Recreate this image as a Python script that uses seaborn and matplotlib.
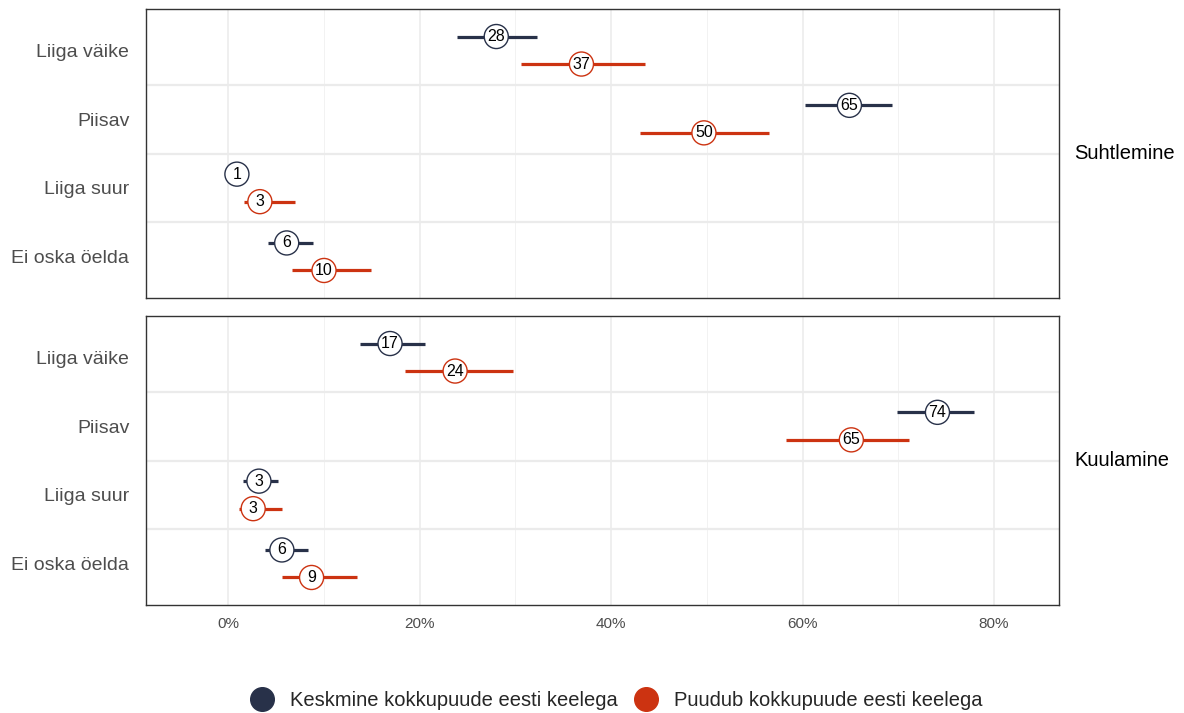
import numpy as np
import pandas as pd
import matplotlib
matplotlib.use('Agg')
import matplotlib.pyplot as plt
from matplotlib.lines import Line2D
import seaborn as sns

# --- andmed ---
categories = ['Liiga väike', 'Piisav', 'Liiga suur', 'Ei oska öelda']
panels = ['Suhtlemine', 'Kuulamine']
groups = ['Keskmine kokkupuude eesti keelega', 'Puudub kokkupuude eesti keelega']

# Suhtlemine
suht_kesk = [28.0, 64.9, 0.9, 6.1]
suht_kesk_lo = [23.9, 60.3, 0.4, 4.2]
suht_kesk_hi = [32.3, 69.3, 1.6, 8.9]
suht_puud = [36.9, 49.7, 3.3, 10.0]
suht_puud_lo = [30.6, 43.0, 1.6, 6.7]
suht_puud_hi = [43.5, 56.5, 7.0, 14.9]

# Kuulamine
kuul_kesk = [16.9, 74.1, 3.2, 5.6]
kuul_kesk_lo = [13.8, 69.9, 1.5, 3.8]
kuul_kesk_hi = [20.6, 77.9, 5.2, 8.3]
kuul_puud = [23.7, 65.1, 2.6, 8.7]
kuul_puud_lo = [18.5, 58.3, 1.1, 5.6]
kuul_puud_hi = [29.8, 71.1, 5.6, 13.4]

x_ticks = [0, 20, 40, 60, 80]
x_tick_labels = ['0%', '20%', '40%', '60%', '80%']

colors = {groups[0]: '#283149', groups[1]: '#cc3311'}
offsets = {groups[0]: -0.2, groups[1]: 0.2}

rows = []
for panel, series in zip(panels, [
        [(suht_kesk, suht_kesk_lo, suht_kesk_hi), (suht_puud, suht_puud_lo, suht_puud_hi)],
        [(kuul_kesk, kuul_kesk_lo, kuul_kesk_hi), (kuul_puud, kuul_puud_lo, kuul_puud_hi)]]):
    for grp, (vals, lo, hi) in zip(groups, series):
        for i, cat in enumerate(categories):
            rows.append({'panel': panel, 'group': grp, 'category': cat,
                         'value': vals[i], 'lo': lo[i], 'hi': hi[i],
                         'y': i + offsets[grp]})
df = pd.DataFrame(rows)

sns.set_theme(style='white')
plt.rcParams['font.family'] = ['Liberation Sans', 'DejaVu Sans']

fig = plt.figure(figsize=(11.84, 7.13), dpi=100)
W, H = 1184, 713
ax_top = fig.add_axes([146 / W, (H - 298) / H, (1059 - 146) / W, 289 / H])
ax_bot = fig.add_axes([146 / W, (H - 605) / H, (1059 - 146) / W, 289 / H])

for ax, panel in zip([ax_top, ax_bot], panels):
    sub = df[df['panel'] == panel]
    # veapiirid
    for grp in groups:
        g = sub[sub['group'] == grp]
        ax.hlines(g['y'], g['lo'], g['hi'], color=colors[grp], lw=2.3, zorder=3)
    # ringid
    sns.scatterplot(data=sub, x='value', y='y', hue='group', palette=colors,
                    hue_order=groups, s=300, legend=False,
                    ax=ax, zorder=4, linewidth=1.0)
    coll = ax.collections[-1]
    coll.set_facecolor('white')
    coll.set_edgecolor([colors[g] for g in sub['group']])
    for _, r in sub.iterrows():
        ax.text(r['value'], r['y'], f"{round(r['value']):.0f}", ha='center', va='center',
                fontsize=11.5, color='black', zorder=5)

    ax.set_xlim(-8.6, 86.8)
    ax.set_ylim(3.6, -0.6)
    ax.set_yticks(range(len(categories)))
    ax.set_yticklabels(categories)
    ax.set_yticks([0.5, 1.5, 2.5], minor=True)
    ax.set_xticks(x_ticks)
    ax.set_xticks([10, 30, 50, 70], minor=True)
    ax.grid(which='major', axis='x', color='#ebebeb', lw=1.1, zorder=0)
    ax.grid(which='minor', axis='x', color='#f0f0f0', lw=0.6, zorder=0)
    ax.grid(which='minor', axis='y', color='#ebebeb', lw=1.6, zorder=0)
    ax.set_axisbelow(True)
    ax.tick_params(axis='y', which='both', length=0, labelsize=14, labelcolor='#4d4d4d', pad=12)
    ax.tick_params(axis='x', which='minor', length=0)
    ax.set_xlabel('')
    ax.set_ylabel('')
    for sp in ax.spines.values():
        sp.set_visible(True)
        sp.set_color('#333333')
        sp.set_linewidth(1.0)
    ax.text(1.017, 0.5, panel, transform=ax.transAxes, ha='left', va='center',
            fontsize=14.5, color='black')

ax_top.tick_params(axis='x', which='major', length=0, labelbottom=False)
ax_bot.set_xticklabels(x_tick_labels)
ax_bot.tick_params(axis='x', which='major', length=4, width=1.0, color='#333333',
                   labelsize=11, labelcolor='#4d4d4d', pad=5)

handles = [Line2D([0], [0], marker='o', linestyle='', markersize=17,
                  markerfacecolor=colors[g], markeredgecolor=colors[g]) for g in groups]
fig.legend(handles, groups, loc='center', bbox_to_anchor=(0.517, 0.018), ncol=2,
           frameon=False, fontsize=14.5, handletextpad=0.4, columnspacing=0.4)

fig.savefig('out.png', dpi=100)
